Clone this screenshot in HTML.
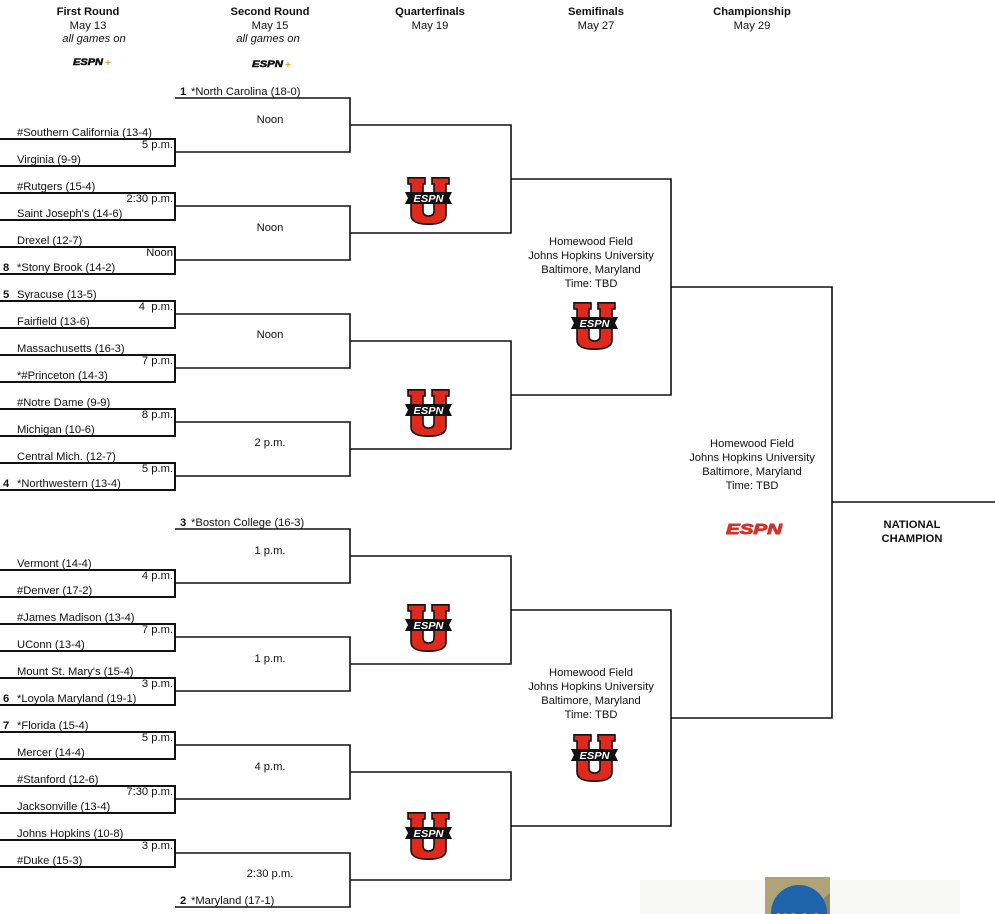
<!DOCTYPE html>
<html>
<head>
<meta charset="utf-8">
<style>
  html, body { margin:0; padding:0; background:#fff; }
  svg { display:block; }
  text { font-family: "Liberation Sans", Arial, sans-serif; font-size:11.2px; fill:#111; }
  .b { font-weight:bold; }
  .c { text-anchor:middle; }
  .r { text-anchor:end; }
  .i { font-style:italic; }
</style>
</head>
<body>
<svg width="995" height="914" viewBox="0 0 995 914" xmlns="http://www.w3.org/2000/svg">
  <rect x="0" y="0" width="995" height="914" fill="#fff"/>

  <!-- Headers -->
  <text class="b c" x="88" y="15">First Round</text>
  <text class="c" x="88" y="29">May 13</text>
  <text class="i c" x="94" y="42">all games on</text>
  <text class="b c" x="270" y="15">Second Round</text>
  <text class="c" x="270" y="29">May 15</text>
  <text class="i c" x="268" y="42">all games on</text>
  <text class="b c" x="430" y="15">Quarterfinals</text>
  <text class="c" x="430" y="29">May 19</text>
  <text class="b c" x="596" y="15">Semifinals</text>
  <text class="c" x="596" y="29">May 27</text>
  <text class="b c" x="752" y="15">Championship</text>
  <text class="c" x="752" y="29">May 29</text>

  <!-- ESPN+ logos -->
  <text x="73" y="65" style="font-size:9px;font-weight:bold;font-style:italic;stroke:#111;stroke-width:0.5;" textLength="30" lengthAdjust="spacingAndGlyphs">ESPN</text>
  <text x="105" y="66" style="font-size:10px;font-weight:bold;fill:#e8a92a;">+</text>
  <text x="252" y="67" style="font-size:9px;font-weight:bold;font-style:italic;stroke:#111;stroke-width:0.5;" textLength="31" lengthAdjust="spacingAndGlyphs">ESPN</text>
  <text x="285" y="68" style="font-size:10px;font-weight:bold;fill:#e8a92a;">+</text>

  <!-- First round boxes -->
  <g fill="none" stroke="#111" stroke-width="2">
    <path d="M0,139 H175 V166 H0"/>
    <path d="M0,193 H175 V220 H0"/>
    <path d="M0,247 H175 V274 H0"/>
    <path d="M0,301 H175 V328 H0"/>
    <path d="M0,355 H175 V382 H0"/>
    <path d="M0,409 H175 V436 H0"/>
    <path d="M0,463 H175 V490 H0"/>
    <path d="M0,570 H175 V597 H0"/>
    <path d="M0,624 H175 V651 H0"/>
    <path d="M0,678 H175 V705 H0"/>
    <path d="M0,732 H175 V759 H0"/>
    <path d="M0,786 H175 V813 H0"/>
    <path d="M0,840 H175 V867 H0"/>
  </g>

  <!-- Second round -->
  <g fill="none" stroke="#111" stroke-width="1.6">
    <path d="M175,98 H350 V152 H175"/>
    <path d="M175,206 H350 V260 H175"/>
    <path d="M175,314 H350 V368 H175"/>
    <path d="M175,422 H350 V476 H175"/>
    <path d="M175,529 H350 V583 H175"/>
    <path d="M175,637 H350 V691 H175"/>
    <path d="M175,745 H350 V799 H175"/>
    <path d="M175,853 H350 V907 H175"/>
    <!-- Quarterfinals -->
    <path d="M350,125 H511 V233 H350"/>
    <path d="M350,341 H511 V449 H350"/>
    <path d="M350,556 H511 V664 H350"/>
    <path d="M350,772 H511 V880 H350"/>
    <!-- Semifinals -->
    <path d="M511,179 H671 V395 H511"/>
    <path d="M511,610 H671 V826 H511"/>
    <!-- Championship -->
    <path d="M671,287 H832 V718 H671"/>
    <path d="M832,502 H995"/>
  </g>

  <!-- First round text -->
  <text x="17" y="136">#Southern California (13-4)</text>
  <text class="r" x="173" y="148">5 p.m.</text>
  <text x="17" y="163">Virginia (9-9)</text>

  <text x="17" y="190">#Rutgers (15-4)</text>
  <text class="r" x="173" y="202">2:30 p.m.</text>
  <text x="17" y="217">Saint Joseph's (14-6)</text>

  <text x="17" y="244">Drexel (12-7)</text>
  <text class="r" x="173" y="256">Noon</text>
  <text class="b" x="3" y="271">8</text><text x="17" y="271">*Stony Brook (14-2)</text>

  <text class="b" x="3" y="298">5</text><text x="17" y="298">Syracuse (13-5)</text>
  <text class="r" x="173" y="310" xml:space="preserve">4  p.m.</text>
  <text x="17" y="325">Fairfield (13-6)</text>

  <text x="17" y="352">Massachusetts (16-3)</text>
  <text class="r" x="173" y="364">7 p.m.</text>
  <text x="17" y="379">*#Princeton (14-3)</text>

  <text x="17" y="406">#Notre Dame (9-9)</text>
  <text class="r" x="173" y="418">8 p.m.</text>
  <text x="17" y="433">Michigan (10-6)</text>

  <text x="17" y="460">Central Mich. (12-7)</text>
  <text class="r" x="173" y="472">5 p.m.</text>
  <text class="b" x="3" y="487">4</text><text x="17" y="487">*Northwestern (13-4)</text>

  <text x="17" y="567">Vermont (14-4)</text>
  <text class="r" x="173" y="579">4 p.m.</text>
  <text x="17" y="594">#Denver (17-2)</text>

  <text x="17" y="621">#James Madison (13-4)</text>
  <text class="r" x="173" y="633">7 p.m.</text>
  <text x="17" y="648">UConn (13-4)</text>

  <text x="17" y="675">Mount St. Mary's (15-4)</text>
  <text class="r" x="173" y="687">3 p.m.</text>
  <text class="b" x="3" y="702">6</text><text x="17" y="702">*Loyola Maryland (19-1)</text>

  <text class="b" x="3" y="729">7</text><text x="17" y="729">*Florida (15-4)</text>
  <text class="r" x="173" y="741">5 p.m.</text>
  <text x="17" y="756">Mercer (14-4)</text>

  <text x="17" y="783">#Stanford (12-6)</text>
  <text class="r" x="173" y="795">7:30 p.m.</text>
  <text x="17" y="810">Jacksonville (13-4)</text>

  <text x="17" y="837">Johns Hopkins (10-8)</text>
  <text class="r" x="173" y="849">3 p.m.</text>
  <text x="17" y="864">#Duke (15-3)</text>

  <!-- Second round text -->
  <text class="b" x="180" y="95">1</text><text x="191" y="95">*North Carolina (18-0)</text>
  <text class="c" x="270" y="123">Noon</text>
  <text class="c" x="270" y="231">Noon</text>
  <text class="c" x="270" y="338">Noon</text>
  <text class="c" x="270" y="446">2 p.m.</text>
  <text class="b" x="180" y="526">3</text><text x="191" y="526">*Boston College (16-3)</text>
  <text class="c" x="270" y="554">1 p.m.</text>
  <text class="c" x="270" y="662">1 p.m.</text>
  <text class="c" x="270" y="770">4 p.m.</text>
  <text class="c" x="270" y="877">2:30 p.m.</text>
  <text class="b" x="180" y="904">2</text><text x="191" y="904">*Maryland (17-1)</text>

  <!-- Semifinal venue text -->
  <text class="c" x="591" y="245">Homewood Field</text>
  <text class="c" x="591" y="259">Johns Hopkins University</text>
  <text class="c" x="591" y="273">Baltimore, Maryland</text>
  <text class="c" x="591" y="287">Time: TBD</text>

  <text class="c" x="591" y="676">Homewood Field</text>
  <text class="c" x="591" y="690">Johns Hopkins University</text>
  <text class="c" x="591" y="704">Baltimore, Maryland</text>
  <text class="c" x="591" y="718">Time: TBD</text>

  <!-- Championship text -->
  <text class="c" x="752" y="447">Homewood Field</text>
  <text class="c" x="752" y="461">Johns Hopkins University</text>
  <text class="c" x="752" y="475">Baltimore, Maryland</text>
  <text class="c" x="752" y="489">Time: TBD</text>
  <text x="726" y="534" style="font-size:15px;font-weight:bold;font-style:italic;fill:#d6312a;stroke:#d6312a;stroke-width:0.9;" textLength="56" lengthAdjust="spacingAndGlyphs">ESPN</text>

  <text class="b c" x="912" y="528">NATIONAL</text>
  <text class="b c" x="912" y="542">CHAMPION</text>

  <!-- ESPN U logos -->
  <g transform="translate(405,177)">
    <path d="M3,0.8 H20 V7 H18 V34 Q18,39 23.5,39 Q29,39 29,34 V7 H27 V0.8 H44 V7 H41 V38 Q41,47.2 23.5,47.2 Q6,47.2 6,38 V7 H3 Z" fill="#e0291c" stroke="#111" stroke-width="1.6"/>
    <polygon points="0,15 47,15 44,21 47,27 0,27 3,21" fill="#111"/>
    <text x="23.5" y="25" style="font-size:10px;font-weight:bold;font-style:italic;fill:#fff;text-anchor:middle;" textLength="30" lengthAdjust="spacingAndGlyphs">ESPN</text>
  </g>
  <g transform="translate(405,389)">
    <path d="M3,0.8 H20 V7 H18 V34 Q18,39 23.5,39 Q29,39 29,34 V7 H27 V0.8 H44 V7 H41 V38 Q41,47.2 23.5,47.2 Q6,47.2 6,38 V7 H3 Z" fill="#e0291c" stroke="#111" stroke-width="1.6"/>
    <polygon points="0,15 47,15 44,21 47,27 0,27 3,21" fill="#111"/>
    <text x="23.5" y="25" style="font-size:10px;font-weight:bold;font-style:italic;fill:#fff;text-anchor:middle;" textLength="30" lengthAdjust="spacingAndGlyphs">ESPN</text>
  </g>
  <g transform="translate(405,604)">
    <path d="M3,0.8 H20 V7 H18 V34 Q18,39 23.5,39 Q29,39 29,34 V7 H27 V0.8 H44 V7 H41 V38 Q41,47.2 23.5,47.2 Q6,47.2 6,38 V7 H3 Z" fill="#e0291c" stroke="#111" stroke-width="1.6"/>
    <polygon points="0,15 47,15 44,21 47,27 0,27 3,21" fill="#111"/>
    <text x="23.5" y="25" style="font-size:10px;font-weight:bold;font-style:italic;fill:#fff;text-anchor:middle;" textLength="30" lengthAdjust="spacingAndGlyphs">ESPN</text>
  </g>
  <g transform="translate(405,812)">
    <path d="M3,0.8 H20 V7 H18 V34 Q18,39 23.5,39 Q29,39 29,34 V7 H27 V0.8 H44 V7 H41 V38 Q41,47.2 23.5,47.2 Q6,47.2 6,38 V7 H3 Z" fill="#e0291c" stroke="#111" stroke-width="1.6"/>
    <polygon points="0,15 47,15 44,21 47,27 0,27 3,21" fill="#111"/>
    <text x="23.5" y="25" style="font-size:10px;font-weight:bold;font-style:italic;fill:#fff;text-anchor:middle;" textLength="30" lengthAdjust="spacingAndGlyphs">ESPN</text>
  </g>
  <g transform="translate(571,302)">
    <path d="M3,0.8 H20 V7 H18 V34 Q18,39 23.5,39 Q29,39 29,34 V7 H27 V0.8 H44 V7 H41 V38 Q41,47.2 23.5,47.2 Q6,47.2 6,38 V7 H3 Z" fill="#e0291c" stroke="#111" stroke-width="1.6"/>
    <polygon points="0,15 47,15 44,21 47,27 0,27 3,21" fill="#111"/>
    <text x="23.5" y="25" style="font-size:10px;font-weight:bold;font-style:italic;fill:#fff;text-anchor:middle;" textLength="30" lengthAdjust="spacingAndGlyphs">ESPN</text>
  </g>
  <g transform="translate(571,734)">
    <path d="M3,0.8 H20 V7 H18 V34 Q18,39 23.5,39 Q29,39 29,34 V7 H27 V0.8 H44 V7 H41 V38 Q41,47.2 23.5,47.2 Q6,47.2 6,38 V7 H3 Z" fill="#e0291c" stroke="#111" stroke-width="1.6"/>
    <polygon points="0,15 47,15 44,21 47,27 0,27 3,21" fill="#111"/>
    <text x="23.5" y="25" style="font-size:10px;font-weight:bold;font-style:italic;fill:#fff;text-anchor:middle;" textLength="30" lengthAdjust="spacingAndGlyphs">ESPN</text>
  </g>

  <!-- NCAA logo (partially visible) -->
  <rect x="640" y="880" width="320" height="34" fill="#f8f8f6"/>
  <rect x="765" y="877" width="65" height="37" fill="#aea477"/>
  <polygon points="822,900 830,893 830,914 814,914" fill="#8c8460"/>
  <circle cx="799" cy="913" r="28" fill="#1f63aa"/>
  <text x="799" y="927" style="font-size:19px;font-weight:bold;fill:#fff;text-anchor:middle;" textLength="46" lengthAdjust="spacingAndGlyphs">NCAA</text>
</svg>
</body>
</html>
